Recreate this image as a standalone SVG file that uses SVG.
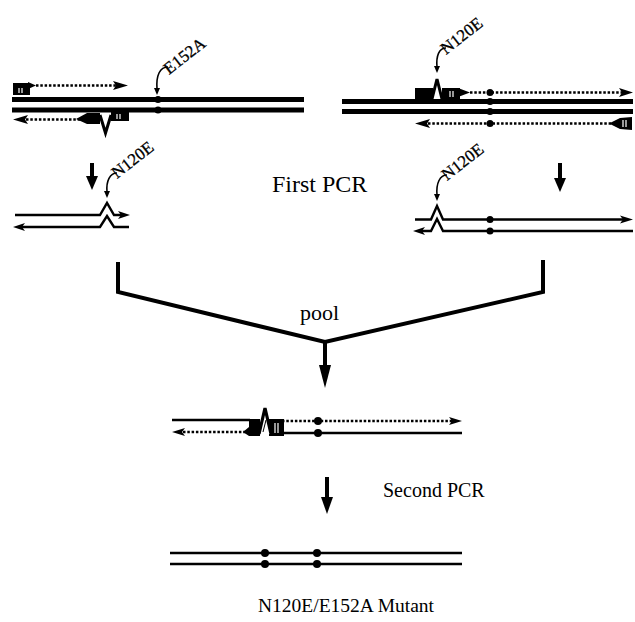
<svg xmlns="http://www.w3.org/2000/svg" width="635" height="622" viewBox="0 0 635 622">
<style>
.thick{stroke:#000;stroke-width:5;fill:none}
.thin{stroke:#000;stroke-width:2.4;fill:none}
.dash{stroke:#000;stroke-width:2.6;stroke-dasharray:2.5 1.8;fill:none}
.conn{stroke:#000;stroke-width:4;fill:none;stroke-linejoin:miter}
.hatch{stroke:#fff;stroke-width:1.2}
.blk{fill:#000}
.lbl{font-family:"Liberation Serif","Times New Roman",serif;fill:#000}
.rot{font-family:"Liberation Serif","Times New Roman",serif;font-size:17px;fill:#000;stroke:#000;stroke-width:0.3}
.curv{stroke:#000;stroke-width:1.6;fill:none}
</style>

<!-- Top-left template (E152A) -->
<g id="template-left">
  <line class="thick" x1="12" y1="99.5" x2="304" y2="99.5"/>
  <line class="thick" x1="12" y1="110" x2="304" y2="110"/>
  <circle class="blk" cx="158" cy="99.5" r="3.5"/>
  <circle class="blk" cx="158" cy="110" r="3.5"/>
  <!-- forward primer -->
  <rect class="blk" x="13" y="83" width="17" height="12"/>
  <polygon class="blk" points="28,82 36,85.5 28,89"/>
  <line class="hatch" x1="19" y1="88" x2="19" y2="93"/>
  <line class="hatch" x1="22" y1="88" x2="22" y2="93"/>
  <line class="dash" x1="36" y1="85.5" x2="118" y2="85.5"/>
  <polygon class="blk" points="113,81 128,85.5 113,90 116,85.5"/>
  <!-- reverse mutagenic primer -->
  <polygon class="blk" points="28,115 13,119.5 28,124 25,119.5"/>
  <line class="dash" x1="26" y1="119.5" x2="80" y2="119.5"/>
  <polygon class="blk" points="76,119 87,113 100,113 100,124 87,124"/>
  <polyline points="100,115 105.5,133 111,115" stroke="#000" stroke-width="3" fill="none"/>
  <rect class="blk" x="111" y="112" width="18" height="9"/>
  <line class="hatch" x1="117" y1="114" x2="117" y2="119"/>
  <line class="hatch" x1="120" y1="114" x2="120" y2="119"/>
</g>

<!-- Top-right template (N120E) -->
<g id="template-right">
  <line class="thick" x1="342" y1="101.5" x2="633" y2="101.5"/>
  <line class="thick" x1="342" y1="111.5" x2="633" y2="111.5"/>
  <!-- forward mutagenic primer -->
  <rect class="blk" x="415" y="88" width="18" height="12"/>
  <polyline points="432,99 437,79 442,99" stroke="#000" stroke-width="3" fill="#fff"/>
  <rect class="blk" x="442" y="88" width="18" height="12"/>
  <line class="hatch" x1="450" y1="91" x2="450" y2="97"/>
  <line class="hatch" x1="453" y1="91" x2="453" y2="97"/>
  <polygon class="blk" points="458,88 470,92.5 458,97"/>
  <line class="dash" x1="470" y1="92.5" x2="622" y2="92.5"/>
  <polygon class="blk" points="619,88 633,92.5 619,97 622,92.5"/>
  <!-- reverse primer -->
  <polygon class="blk" points="430,119 415,123.5 430,128 427,123.5"/>
  <line class="dash" x1="428" y1="123.5" x2="612" y2="123.5"/>
  <polygon class="blk" points="609,123.5 620,118 632,117 632,130 620,129"/>
  <line class="hatch" x1="623" y1="120" x2="623" y2="127"/>
  <line class="hatch" x1="626" y1="120" x2="626" y2="127"/>
  <circle class="blk" cx="490" cy="92.5" r="3.5"/>
  <circle class="blk" cx="490" cy="101.5" r="3.5"/>
  <circle class="blk" cx="490" cy="111.5" r="3.5"/>
  <circle class="blk" cx="490" cy="123.5" r="3.5"/>
</g>

<!-- First PCR product, left -->
<g id="product-left">
  <polyline class="thin" points="15,215 100,215 107,203 114,215 122,215"/>
  <polygon class="blk" points="118,211 130,215 118,219 121,215"/>
  <polyline class="thin" points="22,227 100,227 107,216 114,227 129,227"/>
  <polygon class="blk" points="25,223 13,227 25,231 22,227"/>
</g>

<!-- First PCR product, right -->
<g id="product-right">
  <polyline class="thin" points="415,219.5 431,219.5 437,206 443,219.5 624,219.5"/>
  <polygon class="blk" points="620,215.5 633,219.5 620,223.5 623,219.5"/>
  <polyline class="thin" points="422,231 431,231 437,219 443,231 633,231"/>
  <polygon class="blk" points="425,227 413,231 425,235 422,231"/>
  <circle class="blk" cx="490" cy="219.5" r="3.5"/>
  <circle class="blk" cx="490" cy="231" r="3.5"/>
</g>

<!-- Pooled heteroduplex -->
<g id="pooled">
  <line class="thin" x1="172" y1="420" x2="250" y2="420"/>
  <line class="dash" x1="282" y1="421" x2="452" y2="421"/>
  <polygon class="blk" points="449,417 462,421 449,425 452,421"/>
  <polygon class="blk" points="185,428 172,432 185,436 182,432"/>
  <line class="dash" x1="183" y1="432" x2="250" y2="432"/>
  <line class="thin" x1="282" y1="433" x2="462" y2="433"/>
  <polygon class="blk" points="243,432 249,427 249,419 260,419 260,436 249,436"/>
  <rect class="blk" x="269" y="419" width="15" height="17"/>
  <line class="hatch" x1="275" y1="423" x2="275" y2="433"/>
  <line class="hatch" x1="278" y1="423" x2="278" y2="433"/>
  <polyline points="259,434 265,408 271,434" stroke="#000" stroke-width="3.2" fill="#fff"/>
  <polyline points="263,432 266,420" stroke="#000" stroke-width="1"/>
  <circle class="blk" cx="318" cy="421" r="4"/>
  <circle class="blk" cx="318" cy="433" r="4"/>
</g>

<!-- Final double mutant -->
<g id="final">
  <line class="thin" x1="170" y1="553" x2="462" y2="553"/>
  <line class="thin" x1="170" y1="564" x2="462" y2="564"/>
  <circle class="blk" cx="265" cy="553" r="4"/>
  <circle class="blk" cx="265" cy="564" r="4"/>
  <circle class="blk" cx="317" cy="553" r="4"/>
  <circle class="blk" cx="317" cy="564" r="4"/>
</g>

<!-- Mutation labels -->
<g id="label-e152a">
  <text class="rot" transform="translate(169,75) rotate(-38)">E152A</text>
  <path class="curv" d="M168,67 C160,67 156,75 157,89"/>
  <polygon class="blk" points="154,88 160,88 157,95"/>
</g>
<g id="label-n120e-top">
  <text class="rot" transform="translate(446,55) rotate(-38)">N120E</text>
  <path class="curv" d="M446,48 C439,48 436,56 437,67"/>
  <polygon class="blk" points="434,66 440,66 437,73"/>
</g>
<g id="label-n120e-left">
  <text class="rot" transform="translate(117,179) rotate(-38)">N120E</text>
  <path class="curv" d="M117,173 C110,173 106,181 107,192"/>
  <polygon class="blk" points="104,191 110,191 107,198"/>
</g>
<g id="label-n120e-right">
  <text class="rot" transform="translate(447,181) rotate(-38)">N120E</text>
  <path class="curv" d="M447,175 C440,175 436,183 437,195"/>
  <polygon class="blk" points="434,194 440,194 437,201"/>
</g>

<!-- Step labels -->
<g id="step-labels">
  <text class="lbl" x="272" y="192" font-size="24">First PCR</text>
  <text class="lbl" x="300" y="320" font-size="22">pool</text>
  <text class="lbl" x="383" y="497" font-size="20">Second PCR</text>
  <text class="lbl" x="258" y="612" font-size="19.5">N120E/E152A Mutant</text>
</g>

<!-- Connectors -->
<g id="connectors">
  <line class="conn" x1="92" y1="163" x2="92" y2="178"/>
  <polygon class="blk" points="86,176 98,176 92,190"/>
  <line class="conn" x1="560" y1="163" x2="560" y2="180"/>
  <polygon class="blk" points="554,178 566,178 560,192"/>
  <polyline class="conn" points="118,262 118,292 325,342 543,292 543,260"/>
  <line class="conn" x1="325" y1="342" x2="325" y2="368"/>
  <polygon class="blk" points="319,365 331,365 325,388"/>
  <line class="conn" x1="327" y1="477" x2="327" y2="500"/>
  <polygon class="blk" points="321,497 333,497 327,514"/>
</g>
</svg>
